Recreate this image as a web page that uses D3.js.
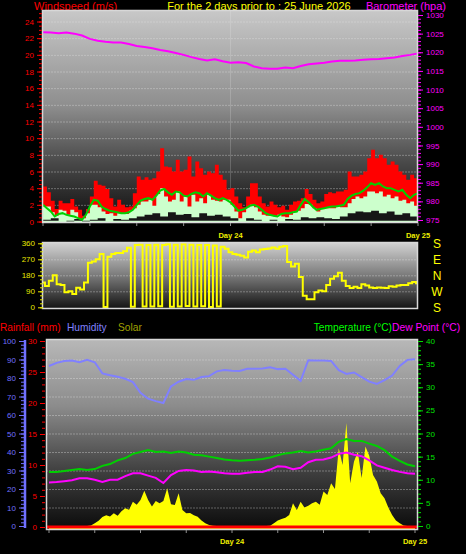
<!DOCTYPE html>
<html>
<head>
<meta charset="utf-8">
<script src="https://cdn.jsdelivr.net/npm/d3@7"></script>
<style>
  body { margin: 0; background: #000; }
  svg { display: block; }
</style>
</head>
<body>
<div id="container"></div>
<script>
/* CONSTANTS AND GLOBALS */
const width = 466;
const height = 554;
const font = "Liberation Sans, Arial, sans-serif";

// plot boxes
const windBox = { x0: 42, y0: 10, x1: 418, y1: 223 };
const dirBox = { x0: 42, y0: 242, x1: 418, y1: 309 };
const lowBox = { x0: 46, y0: 339, x1: 418, y1: 530 };

/* DATA */
// hours since start of the 48h window
const halfHours = d3.range(97).map(i => i / 2);
const hours = d3.range(49);
const sixHours = [0, 6, 12, 18, 24, 30, 36, 42, 48];

// wind (m/s), half hourly
const windGust = [4.2,3.5,2.5,1.5,2.5,2.2,2.2,2.7,1.8,1.4,
  0.7,1.5,3.0,4.9,4.4,4.3,3.9,2.8,1.8,2.6,
  2.0,1.7,1.8,3.4,5.4,5.0,5.3,5.0,5.2,6.0,
  8.8,6.6,6.5,6.0,7.4,6.0,6.2,7.8,5.4,7.2,
  6.4,5.6,6.0,5.8,6.8,5.6,5.0,3.8,4.0,3.0,
  2.2,1.7,3.0,4.6,4.6,3.0,2.2,1.8,2.4,2.0,
  1.7,1.9,1.4,2.0,2.4,2.5,2.8,3.9,3.3,2.6,
  2.2,2.4,3.3,3.5,3.4,3.6,3.6,3.8,6.0,5.4,
  5.4,5.6,6.0,7.6,8.6,7.6,8.0,7.6,6.8,7.2,
  6.8,6.0,5.6,5.0,5.6,5.2,6.2];
const windAvg = [2.0,1.6,1.2,0.6,0.9,1.0,0.8,0.7,0.6,0.4,
  0.2,0.8,1.8,2.6,2.5,1.8,1.5,1.3,1.2,1.1,
  1.0,1.0,1.1,1.4,2.0,2.5,2.7,2.8,2.6,3.1,
  3.7,3.9,3.5,3.2,3.6,3.5,3.1,3.0,3.3,3.5,
  3.4,3.0,3.4,3.1,2.8,2.6,2.8,2.6,2.3,1.8,
  1.3,1.4,1.6,1.9,2.0,1.8,1.4,1.0,0.8,0.7,
  0.6,0.9,1.0,1.0,1.1,1.2,2.0,2.7,2.3,1.8,
  1.4,1.5,1.6,1.7,1.8,1.8,1.9,2.0,2.7,3.1,
  3.3,3.4,3.7,4.1,4.6,4.4,4.6,4.2,4.0,4.0,
  3.8,3.6,3.8,3.2,2.8,3.2,3.4];
const windSpeed = [1.8,1.8,1.1,0.7,1.4,1.3,0.8,1.4,1.1,0.3,
  0.4,1.0,2.0,2.0,1.7,1.2,0.9,1.0,0.7,1.0,
  1.0,0.9,1.3,1.6,2.0,2.4,2.4,2.6,1.9,3.3,
  4.0,3.0,2.4,2.6,3.6,2.4,3.0,1.8,3.2,2.4,
  2.8,2.2,3.2,2.6,2.5,2.4,2.6,2.6,2.0,1.2,
  0.4,1.1,1.7,2.0,1.7,1.2,0.8,0.7,0.7,0.6,
  0.8,0.6,0.5,0.8,1.2,1.3,1.6,2.1,2.0,1.6,
  1.2,1.5,1.6,1.6,1.6,1.8,1.7,1.7,2.2,2.7,
  3.0,2.8,3.0,3.6,3.6,3.4,3.6,3.0,3.2,2.8,
  3.0,2.5,2.6,2.2,2.4,1.9,2.8];
// wind lull (m/s), hourly
const windLull = [0.2,0.4,0.1,0.0,0.3,0.0,0.2,0.4,0.1,0.3,
  0.2,0.4,0.6,0.8,1.0,0.6,1.1,0.8,0.9,0.5,
  1.0,0.7,0.8,0.6,0.4,0.1,0.4,0.2,0.1,0.2,
  0.1,0.3,0.2,0.5,0.4,0.5,0.4,0.3,0.6,1.0,
  1.2,1.1,1.3,1.0,1.2,0.8,1.0,0.6,0.8];

// barometer (hPa), hourly
const pressure = [1025.4,1025.3,1025.1,1025.3,1025.0,1024.5,1023.6,1023.1,1022.8,1022.6,
  1022.6,1022.2,1021.7,1021.4,1021.1,1020.6,1020.3,1019.8,1019.3,1018.7,
  1018.2,1017.8,1018.1,1017.6,1017.2,1017.3,1017.1,1016.2,1015.7,1015.6,
  1015.6,1015.9,1015.7,1016.3,1016.8,1017.0,1017.2,1017.5,1017.7,1017.7,
  1017.8,1018.0,1018.1,1018.2,1018.4,1018.6,1019.0,1019.3,1019.7];

// wind direction (degrees), half hourly
const windDir = [140,120,150,180,130,125,85,90,75,110,
  100,140,250,258,270,300,2,285,300,305,
  305,315,335,3,350,352,5,350,4,352,
  6,350,355,3,352,5,354,8,352,4,
  350,6,350,2,348,5,340,330,310,300,
  296,290,280,313,320,310,325,328,331,336,
  330,340,345,255,230,245,170,65,45,45,
  85,95,90,125,160,175,195,150,120,108,
  115,108,130,122,112,108,112,110,108,118,
  115,122,125,125,135,142,135];

// humidity (%), temperature and dew point (C), hourly
const humidity = [86.5,88.2,89.2,89.4,88.5,89.8,88.5,82.5,81.5,80.7,
  79.6,77.8,72.0,68.8,67.5,66.5,75.5,78.0,79.4,79.0,
  80.5,81.0,83.6,84.3,83.9,83.8,85.0,85.0,85.2,85.8,
  84.8,85.0,81.8,78.5,89.6,89.4,89.5,89.2,84.2,82.2,
  83.0,80.5,78.0,76.8,78.8,81.3,86.5,89.8,90.1];
const temperature = [11.7,11.7,11.9,12.1,12.3,12.1,12.3,13.0,13.4,14.2,
  14.7,15.6,16.0,16.4,16.0,16.1,15.8,16.1,15.9,15.4,
  15.3,15.0,14.7,14.4,14.2,14.1,14.2,14.3,14.5,14.8,
  15.3,15.7,15.9,16.2,15.9,16.1,16.5,16.8,18.2,18.8,
  18.4,18.4,17.8,17.3,16.4,15.0,14.1,13.3,12.9];
const dewPoint = [9.4,9.5,9.7,9.9,10.3,10.3,10.0,9.5,10.0,10.0,
  10.8,11.4,11.4,10.9,10.4,9.3,11.0,11.9,12.1,12.0,
  11.7,11.8,11.6,11.4,11.3,11.3,11.5,11.7,11.7,12.2,
  12.9,12.8,12.3,12.6,13.8,14.3,14.4,14.8,15.6,15.9,
  15.4,15.1,14.2,13.1,12.6,12.1,11.7,11.4,11.3];

// solar (W/m2), half hourly
const solar = [0,0,0,0,0,0,0,0,0,0,
  0,3,15,28,48,58,52,69,55,80,
  96,88,131,115,141,191,141,105,135,123,
  135,204,118,113,177,86,69,70,58,50,
  30,15,5,1,0,0,0,0,0,0,
  0,0,0,0,0,0,0,0,2,15,
  30,38,45,60,123,86,131,100,110,123,
  131,115,186,168,231,200,420,330,557,231,
  348,402,260,430,380,276,240,177,150,100,
  60,30,15,3,0,0,0];

// rainfall (mm), every 6 hours
const rainfall = [0,0,0,0,0,0,0,0,0];

// tick labels
const windTicks = [0,2,4,6,8,10,12,14,16,18,20,22,24];
const baroTicks = [975,980,985,990,995,1000,1005,1010,1015,1020,1025,1030];
const dirTicks = [0,90,180,270,360];
const compass = ["S","E","N","W","S"];
const humTicks = [0,10,20,30,40,50,60,70,80,90,100];
const rainTicks = [0,5,10,15,20,25,30];
const tempTicks = [0,5,10,15,20,25,30,35,40];
const dayLabels = [{ h: 24, label: "Day 24" }, { h: 48, label: "Day 25" }];

/* SVG */
const svg = d3.select("#container")
  .append("svg")
  .attr("width", width)
  .attr("height", height)
  .style("background", "#000")
  .style("font-family", font);

const defs = svg.append("defs");
function addGradient(id, stops) {
  const g = defs.append("linearGradient").attr("id", id)
    .attr("x1", 0).attr("y1", 0).attr("x2", 0).attr("y2", 1);
  stops.forEach(s => g.append("stop").attr("offset", s[0]).attr("stop-color", s[1]));
}
addGradient("gradWind", [[0, "#c8c8c8"], [0.45, "#8e8e8e"], [0.72, "#484848"], [1, "#0e0e0e"]]);
addGradient("gradDir", [[0, "#d4d4d4"], [0.5, "#7a7a7a"], [1, "#121212"]]);
addGradient("gradLow", [[0, "#b8b8b8"], [0.35, "#8c8c8c"], [0.7, "#3e3e3e"], [1, "#0a0a0a"]]);

function panelBack(box, grad) {
  svg.append("rect")
    .attr("x", box.x0).attr("y", box.y0)
    .attr("width", box.x1 - box.x0).attr("height", box.y1 - box.y0)
    .attr("fill", `url(#${grad})`);
}
function panelBorder(box) {
  svg.append("rect")
    .attr("x", box.x0 + 0.5).attr("y", box.y0 + 0.5)
    .attr("width", box.x1 - box.x0 - 1).attr("height", box.y1 - box.y0 - 1)
    .attr("fill", "none").attr("stroke", "#d8d8d8").attr("stroke-width", 1.5);
}
function grid(box, scale, values) {
  svg.append("g").selectAll("line")
    .data(values)
    .join("line")
    .attr("x1", box.x0).attr("x2", box.x1)
    .attr("y1", d => scale(d) + 0.5).attr("y2", d => scale(d) + 0.5)
    .attr("stroke", "#e8e8e8").attr("stroke-opacity", 0.35)
    .attr("stroke-dasharray", "2,1");
}
function styleAxis(g, color, size) {
  g.select(".domain").remove();
  g.selectAll("line").attr("stroke", color);
  g.selectAll("text").attr("fill", color).attr("font-size", size || 8).attr("font-family", font);
}
function yAxis(x, scale, orient, minor, major, color, size) {
  const make = orient === "left" ? d3.axisLeft : d3.axisRight;
  svg.append("g").attr("transform", `translate(${x},0)`)
    .call(make(scale).tickValues(minor).tickSize(3).tickFormat(""))
    .call(g => styleAxis(g, color));
  svg.append("g").attr("transform", `translate(${x},0)`)
    .call(make(scale).tickValues(major).tickSize(5).tickPadding(3).tickFormat(d3.format("d")))
    .call(g => styleAxis(g, color, size));
}
function dayAxis(box, xScale, textY) {
  svg.append("g").selectAll("line")
    .data(sixHours)
    .join("line")
    .attr("x1", d => xScale(d)).attr("x2", d => xScale(d))
    .attr("y1", box.y1).attr("y2", box.y1 + 3)
    .attr("stroke", "#909090");
  svg.append("g").selectAll("text")
    .data(dayLabels)
    .join("text")
    .attr("x", d => xScale(d.h))
    .attr("y", textY)
    .attr("text-anchor", "middle")
    .attr("font-size", 7.5)
    .attr("font-weight", "bold")
    .attr("fill", "#eeee00")
    .text(d => d.label);
}

/* SCALES */
const xTop = d3.scaleLinear().domain([0, 48]).range([43, 418]);
const xLow = d3.scaleLinear().domain([0, 48]).range([49, 415]);
const yWind = d3.scaleLinear().domain([0, 24]).range([221.5, 21.5]);
const yBaro = d3.scaleLinear().domain([975, 1030]).range([220, 15]);
const yDir = d3.scaleLinear().domain([0, 360]).range([307.3, 243.3]);
const yHum = d3.scaleLinear().domain([0, 100]).range([526, 341]);
const yRain = d3.scaleLinear().domain([0, 30]).range([527, 341]);
const yTemp = d3.scaleLinear().domain([0, 40]).range([526, 341]);
const ySolar = d3.scaleLinear().domain([0, 1000]).range([526, 341]);

/* TITLES */
svg.append("text").attr("x", 34).attr("y", 10).attr("font-size", 11)
  .attr("fill", "#ff0000").text("Windspeed (m/s)");
svg.append("text").attr("x", 259).attr("y", 10).attr("font-size", 11)
  .attr("text-anchor", "middle").attr("fill", "#ffff00")
  .text("For the 2 days prior to : 25 June 2026");
svg.append("text").attr("x", 446).attr("y", 10).attr("font-size", 11)
  .attr("text-anchor", "end").attr("fill", "#ff00ff").text("Barometer (hpa)");

/* WIND PANEL */
panelBack(windBox, "gradWind");
grid(windBox, yWind, windTicks.filter(d => d > 0));
svg.append("line")
  .attr("x1", xTop(24)).attr("x2", xTop(24))
  .attr("y1", windBox.y0).attr("y2", windBox.y1)
  .attr("stroke", "#f0f0f0").attr("stroke-opacity", 0.2);

svg.append("path")
  .datum(halfHours)
  .attr("fill", "#ff0000")
  .attr("d", d3.area().curve(d3.curveStepAfter)
    .x(d => xTop(d)).y0(windBox.y1 - 1).y1((d, i) => yWind(windGust[i])));
svg.append("path")
  .datum(halfHours)
  .attr("fill", "#ccffcc")
  .attr("d", d3.area().curve(d3.curveStepAfter)
    .x(d => xTop(d)).y0(windBox.y1 - 1).y1((d, i) => yWind(windSpeed[i])));
svg.append("path")
  .datum(hours)
  .attr("fill", "#161616")
  .attr("d", d3.area().curve(d3.curveStepAfter)
    .x(d => xTop(d)).y0(yWind(0.1)).y1((d, i) => yWind(windLull[i])));
svg.append("path")
  .datum(halfHours)
  .attr("fill", "none")
  .attr("stroke", "#00d000").attr("stroke-width", 2)
  .attr("d", d3.line().x(d => xTop(d)).y((d, i) => yWind(windAvg[i])));
svg.append("path")
  .datum(hours)
  .attr("fill", "none")
  .attr("stroke", "#ff00ff").attr("stroke-width", 2)
  .attr("d", d3.line().x(d => xTop(d)).y((d, i) => yBaro(pressure[i])));
panelBorder(windBox);

yAxis(windBox.x0, yWind, "left", d3.range(0, 25.5, 0.5), windTicks, "#ff0000");
yAxis(windBox.x1, yBaro, "right", d3.range(975, 1031, 1), baroTicks, "#ff00ff");
dayAxis(windBox, xTop, 238);

/* WIND DIRECTION PANEL */
panelBack(dirBox, "gradDir");
grid(dirBox, yDir, [90, 180, 270]);
svg.append("path")
  .datum(halfHours)
  .attr("fill", "none")
  .attr("stroke", "#ffff00").attr("stroke-width", 2)
  .attr("d", d3.line().curve(d3.curveStep).x(d => xTop(d)).y((d, i) => yDir(windDir[i])));
panelBorder(dirBox);
yAxis(dirBox.x0 + 1, yDir, "left", d3.range(0, 361, 22.5), dirTicks, "#e8e800");

svg.append("g").selectAll("text")
  .data(compass)
  .join("text")
  .attr("x", 437)
  .attr("y", (d, i) => yDir(360 - i * 90) + 5)
  .attr("text-anchor", "middle")
  .attr("font-size", 12)
  .attr("fill", "#ffff00")
  .text(d => d);

/* LOWER PANEL LEGEND */
const legendLeft = [
  { text: "Rainfall (mm)", x: 0, color: "#ff0000" },
  { text: "Humidity", x: 67, color: "#8080ff" },
  { text: "Solar", x: 118, color: "#a0a000" }
];
svg.append("g").selectAll("text")
  .data(legendLeft)
  .join("text")
  .attr("x", d => d.x).attr("y", 331)
  .attr("font-size", 10.2)
  .attr("fill", d => d.color)
  .text(d => d.text);
svg.append("text").attr("x", 392).attr("y", 331).attr("font-size", 10.2)
  .attr("text-anchor", "end").attr("fill", "#00ff00").text("Temperature (°C)");
svg.append("text").attr("x", 392).attr("y", 331).attr("font-size", 10.3)
  .attr("fill", "#ff00ff").text("Dew Point (°C)");

/* LOWER PANEL */
panelBack(lowBox, "gradLow");
grid(lowBox, yHum, humTicks.filter(d => d > 0 && d < 100));

svg.append("path")
  .datum(halfHours)
  .attr("fill", "#ffff00")
  .attr("d", d3.area().x(d => xLow(d)).y0(lowBox.y1 - 1).y1((d, i) => ySolar(solar[i])));
svg.append("path")
  .datum(hours)
  .attr("fill", "none")
  .attr("stroke", "#8080ff").attr("stroke-width", 2)
  .attr("d", d3.line().x(d => xLow(d)).y((d, i) => yHum(humidity[i])));
svg.append("path")
  .datum(hours)
  .attr("fill", "none")
  .attr("stroke", "#00d000").attr("stroke-width", 2)
  .attr("d", d3.line().x(d => xLow(d)).y((d, i) => yTemp(temperature[i])));
svg.append("path")
  .datum(hours)
  .attr("fill", "none")
  .attr("stroke", "#ff00ff").attr("stroke-width", 2)
  .attr("d", d3.line().x(d => xLow(d)).y((d, i) => yTemp(dewPoint[i])));
svg.append("path")
  .datum(sixHours)
  .attr("fill", "none")
  .attr("stroke", "#ff0000").attr("stroke-width", 3)
  .attr("d", d3.line().x(d => d === 0 ? lowBox.x0 : d === 48 ? lowBox.x1 : xLow(d))
    .y((d, i) => yRain(rainfall[i])));
panelBorder(lowBox);

// humidity axis with its own blue spine
svg.append("line")
  .attr("x1", 25).attr("x2", 25)
  .attr("y1", yHum(100) - 1).attr("y2", yHum(0) + 2)
  .attr("stroke", "#7070ff").attr("stroke-width", 2.5);
yAxis(24, yHum, "left", d3.range(0, 101, 2), humTicks, "#7070ff");
yAxis(45, yRain, "left", d3.range(0, 31, 1), rainTicks, "#ff0000");
yAxis(lowBox.x1, yTemp, "right", d3.range(0, 41, 1), tempTicks, "#00e000");
dayAxis(lowBox, xLow, 544);
</script>
</body>
</html>
